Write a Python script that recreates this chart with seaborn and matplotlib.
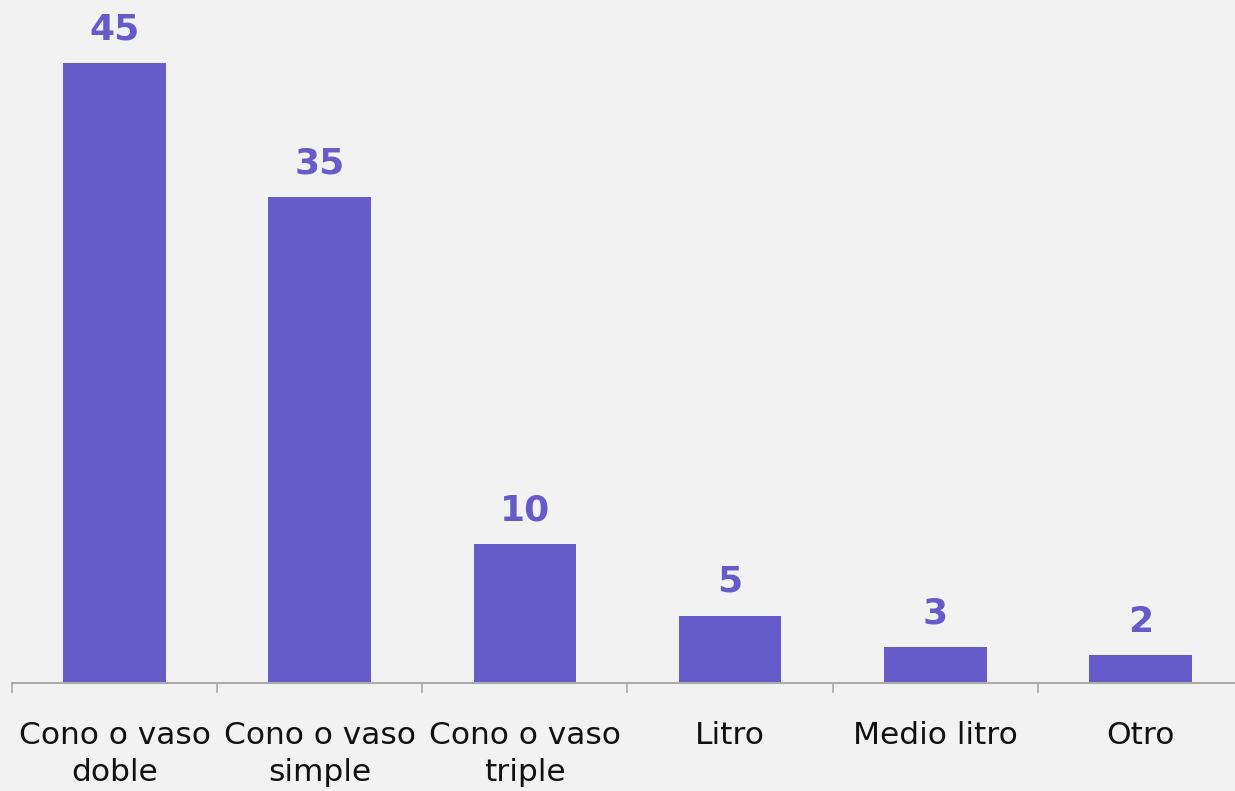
import numpy as np
import pandas as pd
import seaborn as sns
import matplotlib.pyplot as plt

categorias = ["Cono o vaso\ndoble", "Cono o vaso\nsimple", "Cono o vaso\ntriple",
              "Litro", "Medio litro", "Otro"]
valores = [45, 35.3, 10.1, 4.9, 2.6, 2.0]

color_barra = "#665BC8"
fondo = "#F2F2F2"

sns.set_style("white")
plt.rcParams['font.family'] = ['DejaVu Sans']

df = pd.DataFrame({"categoria": categorias, "valor": valores})

fig = plt.figure(figsize=(12.35, 7.91), dpi=100, facecolor=fondo)
ax = fig.add_axes([12 / 1235, 108 / 791, 1231 / 1235, 683 / 791])
ax.set_facecolor(fondo)

sns.barplot(data=df, x="categoria", y="valor", color=color_barra,
            width=0.5, saturation=1, linewidth=0, ax=ax)

ax.bar_label(ax.containers[0], fmt="%.0f", padding=12, fontsize=26,
             fontweight="bold", color=color_barra)

ax.set_xlim(-0.5, len(categorias) - 0.5)
ax.set_ylim(0, 49.6)
ax.set_xlabel("")
ax.set_ylabel("")
ax.set_yticks([])

for s in ["top", "right", "left"]:
    ax.spines[s].set_visible(False)
ax.spines["bottom"].set_color("#ABABAB")
ax.spines["bottom"].set_linewidth(1.5)

ax.set_xticks(np.arange(-0.5, len(categorias)), minor=True)
ax.tick_params(axis="x", which="minor", length=7, width=1.2, color="#ABABAB",
               direction="out", bottom=True)
ax.tick_params(axis="x", which="major", length=0, pad=27, labelsize=22.5,
               labelcolor="#111111")
for t in ax.get_xticklabels():
    t.set_linespacing(1.35)

fig.savefig("out.png", dpi=100, facecolor=fondo)
